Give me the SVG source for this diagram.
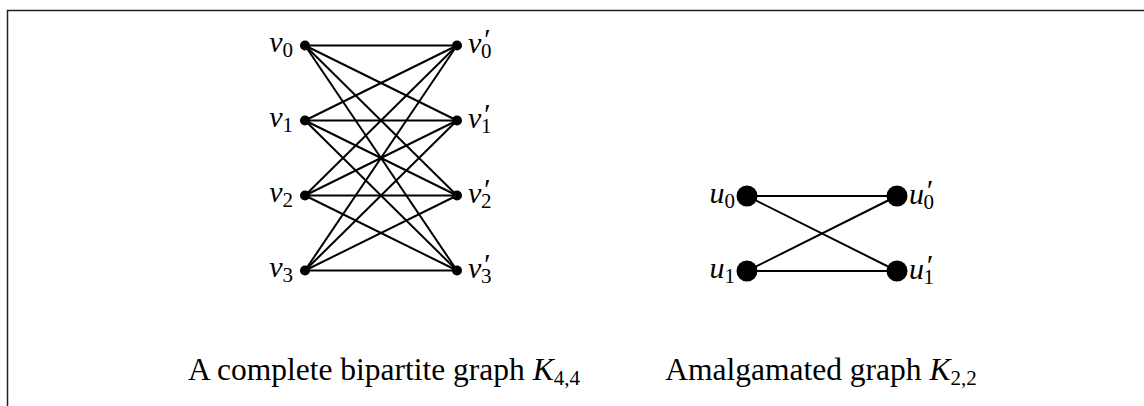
<svg xmlns="http://www.w3.org/2000/svg" width="1144" height="406" viewBox="0 0 1144 406">
<style>
.edge{stroke:#000;stroke-width:2;fill:none}
.dot{fill:#000}
.m{font-family:"Liberation Serif",serif;font-style:italic;font-size:30px;fill:#000}
.s{font-style:normal;font-size:21px}
.p{font-size:30px}
.cap{font-family:"Liberation Serif",serif;font-size:31.5px;fill:#000}
.frame{fill:none;stroke:#222;stroke-width:1.5}
</style>
<rect width="1144" height="406" fill="#fff"/>
<path class="frame" d="M7.5,420 V10.5 H1160"/>
<g id="connectors">
<line class="edge" x1="305" y1="45.5" x2="457" y2="45.5"/>
<line class="edge" x1="305" y1="45.5" x2="457" y2="120.5"/>
<line class="edge" x1="305" y1="45.5" x2="457" y2="195.5"/>
<line class="edge" x1="305" y1="45.5" x2="457" y2="270.5"/>
<line class="edge" x1="305" y1="120.5" x2="457" y2="45.5"/>
<line class="edge" x1="305" y1="120.5" x2="457" y2="120.5"/>
<line class="edge" x1="305" y1="120.5" x2="457" y2="195.5"/>
<line class="edge" x1="305" y1="120.5" x2="457" y2="270.5"/>
<line class="edge" x1="305" y1="195.5" x2="457" y2="45.5"/>
<line class="edge" x1="305" y1="195.5" x2="457" y2="120.5"/>
<line class="edge" x1="305" y1="195.5" x2="457" y2="195.5"/>
<line class="edge" x1="305" y1="195.5" x2="457" y2="270.5"/>
<line class="edge" x1="305" y1="270.5" x2="457" y2="45.5"/>
<line class="edge" x1="305" y1="270.5" x2="457" y2="120.5"/>
<line class="edge" x1="305" y1="270.5" x2="457" y2="195.5"/>
<line class="edge" x1="305" y1="270.5" x2="457" y2="270.5"/>
<line class="edge" x1="747" y1="196" x2="897" y2="196"/>
<line class="edge" x1="747" y1="196" x2="897" y2="271"/>
<line class="edge" x1="747" y1="271" x2="897" y2="196"/>
<line class="edge" x1="747" y1="271" x2="897" y2="271"/>
</g>
<g id="v0"><circle class="dot" cx="305" cy="45.5" r="5"/><text class="m" x="293" y="52" text-anchor="end">v<tspan class="s" dy="5">0</tspan></text></g>
<g id="v1"><circle class="dot" cx="305" cy="120.5" r="5"/><text class="m" x="293" y="127" text-anchor="end">v<tspan class="s" dy="5">1</tspan></text></g>
<g id="v2"><circle class="dot" cx="305" cy="195.5" r="5"/><text class="m" x="293" y="202" text-anchor="end">v<tspan class="s" dy="5">2</tspan></text></g>
<g id="v3"><circle class="dot" cx="305" cy="270.5" r="5"/><text class="m" x="293" y="277" text-anchor="end">v<tspan class="s" dy="5">3</tspan></text></g>
<g id="vp0"><circle class="dot" cx="457" cy="45.5" r="5"/><text class="m" x="468" y="53">v<tspan class="p" dx="1" dy="-4">′</tspan><tspan class="s" dx="-8" dy="9">0</tspan></text></g>
<g id="vp1"><circle class="dot" cx="457" cy="120.5" r="5"/><text class="m" x="468" y="128">v<tspan class="p" dx="1" dy="-4">′</tspan><tspan class="s" dx="-8" dy="9">1</tspan></text></g>
<g id="vp2"><circle class="dot" cx="457" cy="195.5" r="5"/><text class="m" x="468" y="203">v<tspan class="p" dx="1" dy="-4">′</tspan><tspan class="s" dx="-8" dy="9">2</tspan></text></g>
<g id="vp3"><circle class="dot" cx="457" cy="270.5" r="5"/><text class="m" x="468" y="278">v<tspan class="p" dx="1" dy="-4">′</tspan><tspan class="s" dx="-8" dy="9">3</tspan></text></g>
<g id="u0"><circle class="dot" cx="747" cy="196" r="10.5"/><text class="m" x="735" y="203" text-anchor="end">u<tspan class="s" dy="5">0</tspan></text></g>
<g id="u1"><circle class="dot" cx="747" cy="271" r="10.5"/><text class="m" x="735" y="278" text-anchor="end">u<tspan class="s" dy="5">1</tspan></text></g>
<g id="up0"><circle class="dot" cx="897" cy="196" r="10.5"/><text class="m" x="909" y="204">u<tspan class="p" dx="1" dy="-4">′</tspan><tspan class="s" dx="-8" dy="9">0</tspan></text></g>
<g id="up1"><circle class="dot" cx="897" cy="271" r="10.5"/><text class="m" x="909" y="279">u<tspan class="p" dx="1" dy="-4">′</tspan><tspan class="s" dx="-8" dy="9">1</tspan></text></g>
<text class="cap" x="384" y="380" text-anchor="middle">A complete bipartite graph <tspan font-style="italic">K</tspan><tspan font-size="21" dy="5">4,4</tspan></text>
<text class="cap" x="821" y="380" text-anchor="middle">Amalgamated graph <tspan font-style="italic">K</tspan><tspan font-size="21" dy="5">2,2</tspan></text>
</svg>
